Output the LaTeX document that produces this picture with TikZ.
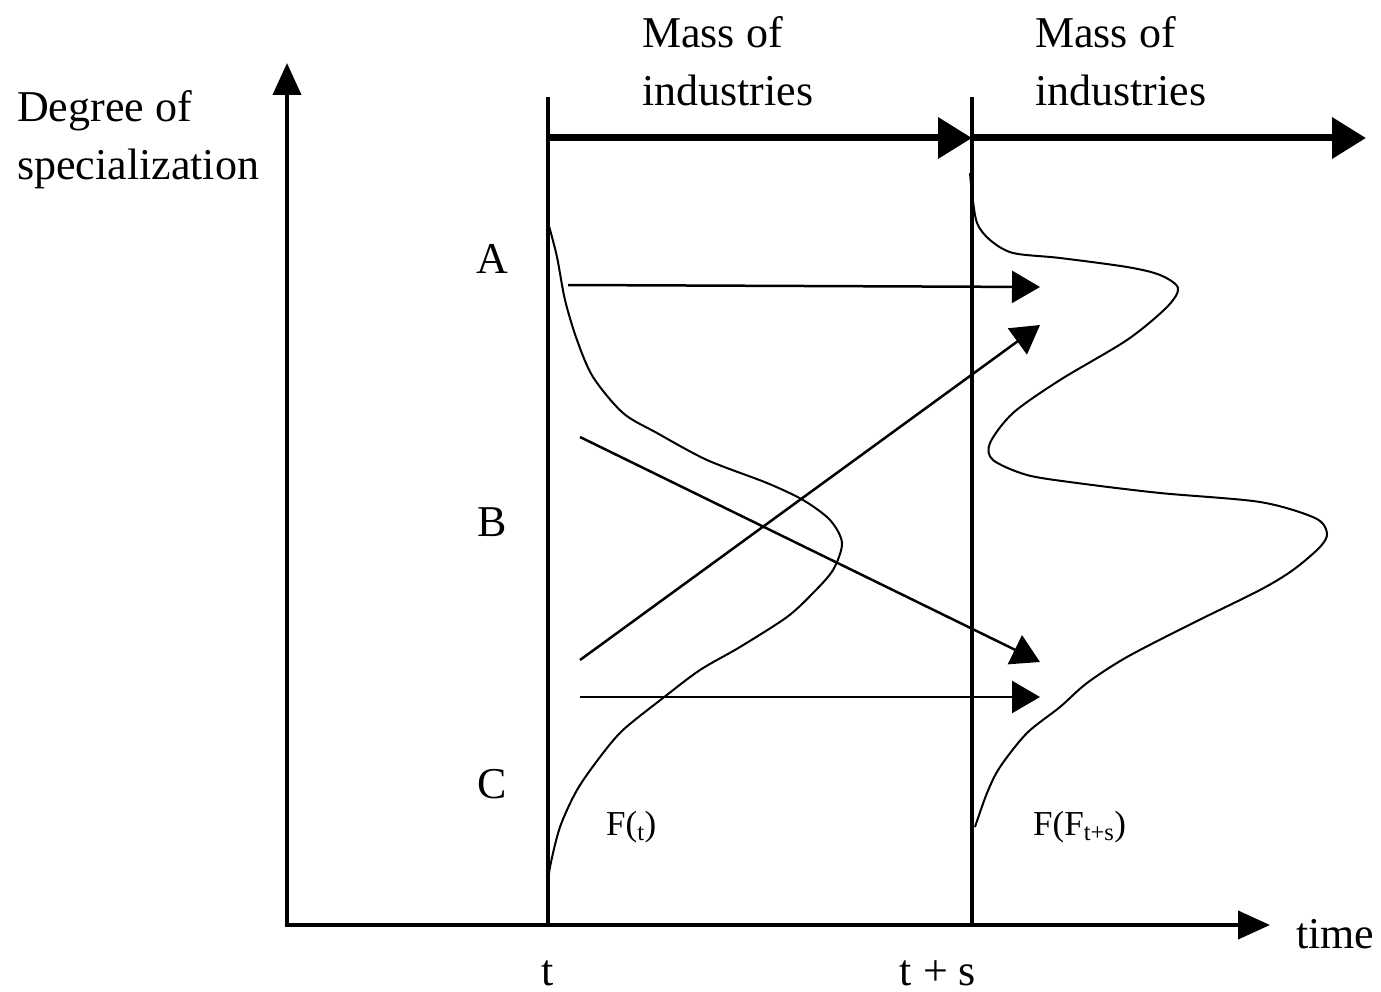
\documentclass[tikz,border=0pt]{standalone}
\usepackage{fontspec}
\setmainfont{Liberation Serif}
\usetikzlibrary{arrows.meta}
\begin{document}
\begin{tikzpicture}[x=1pt,y=-1pt,
  lbl/.style={font=\fontsize{44}{58}\selectfont, inner sep=0pt},
  flbl/.style={font=\fontsize{35}{40}\selectfont, inner sep=0pt, anchor=base west},
  axisline/.style={line width=4pt, line join=miter},
  massarrow/.style={line width=7pt, -{Triangle[length=34pt,width=40pt]}},
  timeline/.style={line width=4.5pt},
  shiftarrow/.style={line width=2.5pt, -{Triangle[length=28pt,width=32pt]}},
  dens/.style={line width=2pt}]
\useasboundingbox (0,0) rectangle (1381,992);

% axes
\coordinate (ytop) at (287,63);
\coordinate (O) at (287,925);
\coordinate (xend) at (1270,925);
\draw[axisline, {Triangle[length=32pt,width=28pt]}-{Triangle[length=32pt,width=28pt]}] (ytop) -- (O) -- (xend);

% time lines
\coordinate (t0) at (548,925);
\coordinate (t0top) at (548,97);
\coordinate (t1) at (972,925);
\coordinate (t1top) at (972,97);
\draw[timeline] (t0) -- (t0top);
\draw[timeline] (t1) -- (t1top);

% mass arrows
\coordinate (m0) at (546,138);
\coordinate (m1) at (972,138);
\coordinate (m2) at (1366,138);
\draw[massarrow] (m0) -- (m1);
\draw[massarrow] (m1) -- (m2);

% labels
\node[lbl, anchor=base west] (deg1) at (17,122) {Degree of};
\node[lbl, anchor=base west] (deg2) at (17,180) {specialization};
\node[lbl, anchor=base west] (mass1a) at (642,48) {Mass of};
\node[lbl, anchor=base west] (mass1b) at (642,106) {industries};
\node[lbl, anchor=base west] (mass2a) at (1035,48) {Mass of};
\node[lbl, anchor=base west] (mass2b) at (1035,106) {industries};
\node[lbl, anchor=base] (A) at (492,274) {A};
\node[lbl, anchor=base] (B) at (492,536) {B};
\node[lbl, anchor=base] (C) at (492,798) {C};
\node[lbl, anchor=base] (tl) at (548,985) {t};
\node[lbl, anchor=base] (tsl) at (938,985) {t + s};
\node[lbl, anchor=base west] (timel) at (1296,948) {time};
\node[flbl] (Ft) at (606,835) {F(\textsubscript{t})};
\node[flbl] (Fts) at (1033,835) {F(F\textsubscript{t+s})};

% density at t
\draw[dens] plot[smooth, tension=0.5] coordinates {
 (549,226) (557,257) (565,300) (577,340) (593,377) (623,413) (657,433)
 (707,460) (767,483) (803,500) (830,520) (842,543) (833,570) (813,593)
 (787,617) (740,647) (700,670) (663,698) (623,730) (600,757) (577,790)
 (560,827) (550,867) (548,887)};

% density at t+s
\draw[dens] plot[smooth, tension=0.5] coordinates {
 (970,173) (972,193) (977,223) (990,240) (1013,253) (1060,258) (1127,267)
 (1160,275) (1178,288) (1167,307) (1127,340) (1060,380) (1013,413) (990,443)
 (993,460) (1027,475) (1077,483) (1160,493) (1260,502) (1315,518) (1327,533)
 (1320,547) (1293,570) (1260,590) (1193,623) (1127,657) (1087,683) (1060,707)
 (1027,733) (1000,767) (987,793) (975,827)};

% shift arrows
\coordinate (a0) at (568,285);
\coordinate (a1) at (1040,287);
\coordinate (b0) at (580,660);
\coordinate (b1) at (1040,325);
\coordinate (c0) at (580,437);
\coordinate (c1) at (1040,662);
\coordinate (d0) at (580,697);
\coordinate (d1) at (1040,697);
\draw[shiftarrow] (a0) -- (a1);
\draw[shiftarrow] (b0) -- (b1);
\draw[shiftarrow] (c0) -- (c1);
\draw[shiftarrow] (d0) -- (d1);
\end{tikzpicture}
\end{document}
